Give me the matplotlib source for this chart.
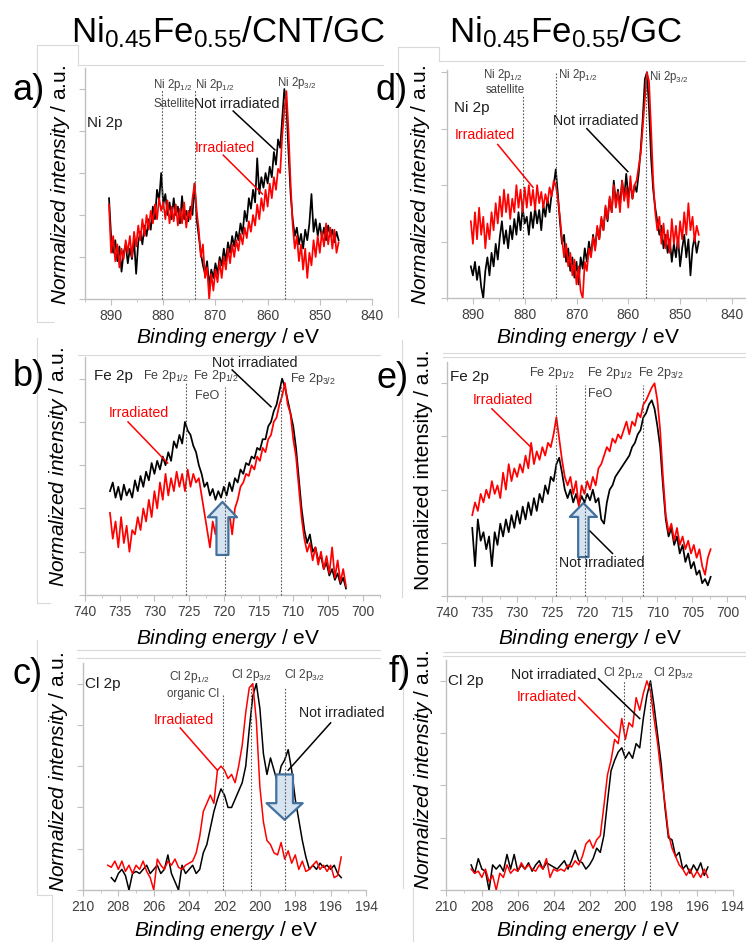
import numpy as np
import matplotlib
matplotlib.use("Agg")
import matplotlib.pyplot as plt
from matplotlib.patches import FancyArrowPatch, ArrowStyle
from matplotlib.lines import Line2D

plt.rcParams['font.family'] = ['Liberation Sans', 'DejaVu Sans']
plt.rcParams['mathtext.fontset'] = 'custom'
plt.rcParams['mathtext.rm'] = 'Liberation Sans'
plt.rcParams['mathtext.it'] = 'Liberation Sans:italic'
plt.rcParams['mathtext.bf'] = 'Liberation Sans:bold'
plt.rcParams['mathtext.default'] = 'regular'

# ---------------- spectra (normalized intensity, % of maximum) ----------------
# Ni 2p, energy grid starts at 890.4 eV, 0.4 eV steps toward lower binding energy
ni_start, ni_step = 890.4, 0.4
ni_cnt_not = [48, 30, 22, 28, 18, 25, 13, 22, 26, 17, 24, 19, 28, 12, 27, 32, 26, 35, 30, 38,
              33, 44, 38, 52, 47, 60, 45, 50, 40, 46, 38, 48, 40, 44, 36, 49, 38, 42, 37, 44,
              40, 55, 38, 30, 22, 16, 12, 18, 6, 14, 10, 17, 12, 20, 16, 24, 18, 27, 22, 30,
              25, 32, 28, 36, 31, 42, 37, 48, 43, 52, 46, 67, 50, 58, 53, 60, 55, 63, 58, 70,
              64, 76, 72, 86, 100, 92, 70, 50, 38, 30, 34, 26, 31, 24, 33, 28, 36, 50, 32, 38,
              30, 36, 29, 34, 28, 35, 30, 33, 27, 32, 28]
ni_cnt_irr = [45, 22, 30, 18, 26, 15, 24, 19, 28, 22, 30, 20, 32, 25, 35, 28, 38, 30, 40, 33,
              42, 36, 45, 38, 48, 42, 46, 38, 47, 36, 44, 37, 45, 35, 43, 36, 46, 34, 42, 38,
              48, 55, 42, 33, 20, 26, 10, 15, 0, 12, 4, 14, 8, 18, 10, 20, 14, 24, 17, 26,
              20, 28, 23, 31, 26, 34, 29, 37, 32, 40, 35, 45, 38, 48, 42, 52, 44, 55, 48, 58,
              52, 62, 60, 78, 90, 99, 80, 55, 35, 24, 30, 18, 26, 14, 24, 10, 22, 16, 28, 20,
              30, 22, 32, 25, 36, 26, 34, 24, 33, 22, 27]
ni_gc_not = [14, 10, 16, 8, 14, 5, 0, 12, 18, 10, 20, 14, 24, 17, 27, 34, 24, 30, 22, 32,
             26, 35, 28, 38, 30, 40, 33, 36, 28, 38, 31, 40, 33, 39, 30, 41, 36, 44, 38, 46,
             50, 57, 46, 34, 24, 28, 16, 22, 12, 18, 9, 16, 6, 18, 13, 22, 16, 25, 19, 28,
             22, 31, 26, 35, 30, 40, 34, 44, 38, 52, 42, 48, 41, 52, 44, 55, 45, 51, 44, 50,
             47, 55, 66, 80, 97, 100, 84, 62, 48, 40, 34, 28, 32, 22, 28, 20, 26, 16, 24, 18,
             27, 14, 22, 28, 18, 26, 10, 22, 27, 20, 25]
ni_gc_irr = [34, 24, 38, 26, 40, 28, 36, 22, 33, 26, 38, 30, 42, 33, 45, 36, 48, 38, 46, 35,
             44, 38, 50, 40, 48, 38, 49, 40, 50, 41, 48, 39, 50, 42, 47, 40, 46, 42, 49, 45,
             52, 50, 44, 36, 26, 18, 24, 14, 20, 10, 17, 6, 14, 3, 0, 16, 12, 22, 18, 27,
             21, 32, 26, 36, 30, 41, 35, 45, 38, 50, 40, 47, 38, 52, 43, 49, 40, 54, 44, 50,
             52, 58, 64, 76, 88, 100, 96, 75, 52, 38, 30, 36, 24, 33, 22, 30, 20, 35, 24, 32,
             22, 34, 26, 38, 28, 42, 30, 36, 25, 32, 28]

# Fe 2p, grid starts at 736.4 eV, 0.4 eV steps
fe_start, fe_step = 736.4, 0.4
fe_cnt_not = [48, 52, 45, 50, 44, 51, 46, 49, 45, 53, 48, 55, 50, 57, 53, 61, 56, 62, 58, 64,
              60, 66, 62, 71, 68, 74, 70, 80, 76, 74, 69, 66, 60, 56, 50, 52, 46, 49, 44, 48,
              45, 50, 46, 52, 48, 54, 52, 58, 56, 61, 60, 64, 63, 68, 67, 72, 72, 78, 80, 85,
              88, 94, 100, 96, 90, 84, 78, 68, 54, 40, 30, 24, 28, 20, 22, 16, 18, 12, 15, 9,
              12, 7, 10, 5, 8, 3]
fe_cnt_irr = [38, 26, 34, 22, 36, 24, 32, 20, 30, 28, 36, 30, 40, 34, 44, 36, 48, 40, 52, 44,
              56, 46, 54, 48, 57, 50, 56, 48, 58, 50, 56, 52, 54, 46, 38, 30, 22, 34, 28, 38,
              32, 40, 30, 38, 28, 40, 44, 50, 52, 56, 55, 60, 58, 64, 62, 68, 66, 72, 74, 80,
              82, 88, 92, 98, 88, 84, 72, 64, 50, 36, 26, 20, 24, 16, 22, 14, 20, 12, 18, 10,
              22, 8, 16, 6, 12, 4]
fe_gc_not = [32, 14, 36, 26, 30, 22, 28, 14, 30, 24, 34, 28, 36, 30, 38, 32, 40, 34, 42, 36,
             44, 38, 46, 40, 48, 44, 52, 48, 56, 54, 62, 65, 58, 50, 46, 50, 44, 48, 43, 47,
             44, 48, 45, 50, 44, 46, 36, 34, 44, 50, 52, 56, 58, 60, 62, 64, 66, 70, 72, 76,
             78, 84, 86, 90, 92, 88, 80, 70, 52, 36, 28, 32, 24, 28, 20, 24, 16, 20, 13, 16,
             10, 12, 6, 8, 5, 9]
fe_gc_irr = [38, 44, 40, 48, 44, 50, 46, 54, 48, 52, 46, 58, 50, 62, 54, 60, 56, 62, 58, 66,
             60, 72, 62, 68, 64, 70, 66, 72, 70, 76, 84, 74, 64, 56, 52, 56, 48, 54, 42, 52,
             48, 54, 50, 56, 52, 60, 62, 66, 70, 68, 74, 72, 76, 74, 78, 82, 76, 82, 80, 86,
             84, 90, 92, 95, 98, 100, 92, 78, 56, 38, 30, 34, 26, 32, 24, 28, 22, 26, 20, 24,
             18, 22, 14, 10, 18, 22]

# Cl 2p, 0.2 eV steps
cl_step = 0.2
cl_cnt_not_start = 208.4
cl_cnt_not = [6, 4, 8, 10, 7, 0, 8, 9, 8, 10, 12, 8, 10, 12, 8, 10, 17, 8, 4, 0,
              12, 8, 10, 12, 8, 10, 18, 22, 30, 38, 44, 49, 46, 40, 40, 44, 48, 52, 60, 78,
              94, 100, 88, 66, 56, 64, 58, 52, 60, 63, 68, 58, 44, 34, 24, 16, 10, 12, 10, 13,
              11, 12, 10, 12, 8, 6]
cl_cnt_irr_start = 208.6
cl_cnt_irr = [12, 11, 14, 10, 14, 9, 12, 8, 12, 10, 14, 9, 6, 0, 15, 12, 10, 14, 12, 15,
              11, 10, 12, 13, 14, 18, 26, 38, 42, 46, 42, 58, 60, 58, 54, 56, 52, 60, 70, 86,
              98, 100, 82, 50, 33, 24, 22, 18, 17, 23, 15, 19, 13, 17, 10, 14, 9, 10, 12, 14,
              10, 12, 9, 12, 6, 7, 16]
cl_gc_start = 208.6
cl_gc_not = [12, 8, 15, 10, 9, 0, 12, 10, 12, 9, 17, 10, 17, 9, 12, 10, 13, 9, 12, 14,
             10, 13, 12, 11, 10, 12, 14, 10, 14, 19, 14, 13, 10, 12, 15, 20, 18, 26, 42, 57,
             62, 66, 68, 63, 66, 63, 70, 68, 82, 93, 100, 88, 74, 60, 40, 25, 24, 16, 18, 10,
             12, 8, 12, 9, 13, 7, 11]
cl_gc_irr = [10, 8, 9, 6, 10, 4, 7, 0, 8, 6, 12, 8, 10, 9, 13, 10, 12, 10, 9, 12,
             10, 15, 6, 10, 9, 10, 9, 12, 11, 14, 12, 16, 22, 24, 20, 24, 26, 40, 55, 62,
             72, 70, 82, 72, 80, 78, 92, 86, 94, 100, 95, 82, 70, 55, 42, 27, 20, 16, 12, 10,
             7, 10, 6, 9, 6, 10, 6]

# ---------------- layout helpers ----------------
W, H = 746, 942
fig = plt.figure(figsize=(W / 100, H / 100), dpi=100)


def rect(l, t, r, b):
    return [l / W, 1 - b / H, (r - l) / W, (b - t) / H]


def fpos(x, y):
    return x / W, 1 - y / H


def grid(start, step, vals):
    return start - step * np.arange(len(vals))


GRAY_TXT = '#404040'
DARK_TXT = '#1e1e1e'
RED = '#ff0000'


def base_axes(r, xlim, ylim, major, minor=None):
    ax = fig.add_axes(rect(*r))
    ax.set_xlim(*xlim)
    ax.set_ylim(*ylim)
    for s in ('top', 'right'):
        ax.spines[s].set_visible(False)
    for s in ('left', 'bottom'):
        ax.spines[s].set_color('#c0c0c0')
        ax.spines[s].set_linewidth(1.0)
    ax.set_xticks(major)
    if minor is not None:
        ax.set_xticks(minor, minor=True)
    ax.tick_params(axis='both', which='major', direction='out', length=4, width=0.8,
                   colors='#c0c0c0', labelcolor=GRAY_TXT, labelsize=10, pad=3)
    ax.tick_params(axis='both', which='minor', direction='out', length=2.5, width=0.6,
                   colors='#c0c0c0')
    ax.set_yticklabels([])
    ax.patch.set_alpha(0)
    return ax


def vline(ax, x, top):
    ax.plot([x, x], [0, top], ls=(0, (1.5, 1.5)), color='#555555', lw=0.8, zorder=6,
            clip_on=False)


def label(ax, x, y, s, size=8.3, color=GRAY_TXT, ha='center'):
    ax.text(x, y, s, fontsize=size, color=color, ha=ha, va='center', zorder=7)


def leader(ax, p0, p1, color):
    ax.plot([p0[0], p1[0]], [p0[1], p1[1]], color=color, lw=1.1, zorder=7, clip_on=False)


def block_arrow(ax, x, y0, y1, tail, head, hlen):
    style = ArrowStyle.Simple(head_length=hlen, head_width=head, tail_width=tail)
    arr = FancyArrowPatch((x, y0), (x, y1), arrowstyle=style, mutation_scale=1,
                          shrinkA=0, shrinkB=0, fc='#d6e3f1', ec='#41719c', lw=1.6,
                          zorder=5)
    ax.add_patch(arr)


def curves(ax, e1, v1, e2, v2, lw):
    ax.plot(e1, np.array(v1) / 100, color='black', lw=lw, zorder=3)
    ax.plot(e2, np.array(v2) / 100, color=RED, lw=lw, zorder=4)


NOISY_LW = 1.25

# ---------------- a) Ni 2p, CNT/GC ----------------
ni_ticks = [890, 880, 870, 860, 850, 840]
ni_minor = list(range(895, 839, -5))
ax = base_axes((85, 68, 372, 299), (895, 840), (0, 1.1), ni_ticks, ni_minor)
ax.set_yticks([0, 0.2, 0.4, 0.6, 0.8, 1.0])
curves(ax, grid(ni_start, ni_step, ni_cnt_not), ni_cnt_not,
       grid(ni_start, ni_step, ni_cnt_irr), ni_cnt_irr, NOISY_LW)
for x in (880.3, 873.9, 856.7):
    vline(ax, x, 1.0)
label(ax, 894.6, 0.84, 'Ni 2p', 11, DARK_TXT, 'left')
label(ax, 878.2, 1.02, 'Ni 2p$_{1/2}$')
label(ax, 878.0, 0.93, 'Satellite')
label(ax, 870.1, 1.02, 'Ni 2p$_{1/2}$')
label(ax, 854.4, 1.03, 'Ni 2p$_{3/2}$')
label(ax, 865.9, 0.93, 'Not irradiated', 10.2, DARK_TXT)
leader(ax, (866.6, 0.895), (858.6, 0.71), 'black')
label(ax, 868.2, 0.72, 'Irradiated', 10.2, RED)
leader(ax, (868.5, 0.685), (861.0, 0.50), RED)

# ---------------- d) Ni 2p, GC ----------------
ax = base_axes((447, 70, 745, 298), (895, 895 - 298 / 5.18), (0, 1.01), ni_ticks, ni_minor)
ax.set_yticks([0, 0.25, 0.5, 0.75, 1.0])
curves(ax, grid(ni_start, ni_step, ni_gc_not), ni_gc_not,
       grid(ni_start, ni_step, ni_gc_irr), ni_gc_irr, NOISY_LW)
vline(ax, 880.3, 0.9)
vline(ax, 874.0, 1.0)
vline(ax, 856.6, 1.0)
label(ax, 893.6, 0.84, 'Ni 2p', 11, DARK_TXT, 'left')
label(ax, 884.2, 0.99, 'Ni 2p$_{1/2}$')
label(ax, 883.8, 0.92, 'satellite')
label(ax, 869.8, 0.99, 'Ni 2p$_{1/2}$')
label(ax, 852.1, 0.98, 'Ni 2p$_{3/2}$')
label(ax, 887.7, 0.72, 'Irradiated', 10.2, RED)
leader(ax, (885.2, 0.68), (878.4, 0.49), RED)
label(ax, 866.2, 0.785, 'Not irradiated', 10.2, DARK_TXT)
leader(ax, (868.0, 0.75), (860.1, 0.56), 'black')

# ---------------- b) Fe 2p, CNT/GC ----------------
fe_ticks = [740, 735, 730, 725, 720, 715, 710, 705, 700]
fe_minor = list(np.arange(740, 697, -2.5))
ax = base_axes((85, 357, 380, 595), (740, 697.7), (0, 1.1), fe_ticks, fe_minor)
ax.set_yticks([0, 0.2, 0.4, 0.6, 0.8, 1.0])
curves(ax, grid(fe_start, fe_step, fe_cnt_not), fe_cnt_not,
       grid(fe_start, fe_step, fe_cnt_irr), fe_cnt_irr, NOISY_LW)
vline(ax, 725.4, 0.98)
vline(ax, 719.8, 0.96)
vline(ax, 711.8, 0.98)
label(ax, 738.7, 1.01, 'Fe 2p', 11, DARK_TXT, 'left')
label(ax, 728.4, 1.01, 'Fe 2p$_{1/2}$', 9)
label(ax, 721.1, 1.01, 'Fe 2p$_{1/2}$', 9)
label(ax, 724.2, 0.92, 'FeO', 9, GRAY_TXT, 'left')
label(ax, 707.2, 1.0, 'Fe 2p$_{3/2}$', 9)
label(ax, 715.5, 1.07, 'Not irradiated', 10.2, DARK_TXT)
leader(ax, (718.8, 1.04), (713.2, 0.87), 'black')
label(ax, 732.2, 0.84, 'Irradiated', 10.2, RED)
leader(ax, (733.8, 0.80), (728.1, 0.61), RED)
block_arrow(ax, 720.2, 0.185, 0.43, 8.6, 21, 11)

# ---------------- e) Fe 2p, GC ----------------
ax = base_axes((447, 362, 745, 596), (740, 740 - 298 / 7.25), (0, 1.1), fe_ticks, fe_minor)
ax.set_yticks([0, 0.25, 0.5, 0.75, 1.0])
curves(ax, grid(fe_start, fe_step, fe_gc_not), fe_gc_not,
       grid(fe_start, fe_step, fe_gc_irr), fe_gc_irr, NOISY_LW)
vline(ax, 724.4, 0.99)
vline(ax, 720.3, 0.99)
vline(ax, 712.0, 0.99)
label(ax, 739.6, 1.03, 'Fe 2p', 11, DARK_TXT, 'left')
label(ax, 725.1, 1.05, 'Fe 2p$_{1/2}$', 9)
label(ax, 716.8, 1.05, 'Fe 2p$_{1/2}$', 9)
label(ax, 719.9, 0.95, 'FeO', 9, GRAY_TXT, 'left')
label(ax, 709.5, 1.05, 'Fe 2p$_{3/2}$', 9)
label(ax, 732.1, 0.92, 'Irradiated', 10.2, RED)
leader(ax, (733.6, 0.88), (727.9, 0.695), RED)
label(ax, 718.0, 0.155, 'Not irradiated', 10.2, DARK_TXT)
leader(ax, (716.4, 0.20), (719.6, 0.305), 'black')
block_arrow(ax, 720.55, 0.183, 0.437, 7.5, 19.5, 10)

# ---------------- c) Cl 2p, CNT/GC ----------------
cl_ticks = list(range(210, 193, -2))
cl_minor = list(range(210, 193, -1))
ax = base_axes((83, 663, 366, 890), (210, 194), (0, 1.1), cl_ticks, cl_minor)
ax.set_yticks([0, 0.2, 0.4, 0.6, 0.8, 1.0])
curves(ax, grid(cl_cnt_not_start, cl_step, cl_cnt_not), cl_cnt_not,
       grid(cl_cnt_irr_start, cl_step, cl_cnt_irr), cl_cnt_irr, 1.1)
vline(ax, 202.1, 0.95)
vline(ax, 200.5, 1.0)
vline(ax, 198.6, 0.985)
label(ax, 209.9, 1.0, 'Cl 2p', 11, DARK_TXT, 'left')
label(ax, 204.0, 1.03, 'Cl 2p$_{1/2}$', 8.6)
label(ax, 203.8, 0.95, 'organic Cl', 8.3)
label(ax, 200.5, 1.04, 'Cl 2p$_{3/2}$', 8.6)
label(ax, 197.5, 1.04, 'Cl 2p$_{3/2}$', 8.6)
label(ax, 204.3, 0.825, 'Irradiated', 10.2, RED)
leader(ax, (204.5, 0.785), (202.4, 0.58), RED)
label(ax, 197.8, 0.86, 'Not irradiated', 10.2, DARK_TXT, 'left')
leader(ax, (196.0, 0.81), (198.4, 0.58), 'black')
block_arrow(ax, 198.6, 0.56, 0.34, 12, 26, 12)

# ---------------- f) Cl 2p, GC ----------------
ax = base_axes((446, 660, 733, 890), (210, 194), (0, 1.1), cl_ticks, cl_minor)
ax.set_yticks([0, 0.25, 0.5, 0.75, 1.0])
curves(ax, grid(cl_gc_start, cl_step, cl_gc_not), cl_gc_not,
       grid(cl_gc_start, cl_step, cl_gc_irr), cl_gc_irr, 1.1)
vline(ax, 200.1, 1.0)
vline(ax, 198.6, 1.0)
label(ax, 209.9, 1.0, 'Cl 2p', 11, DARK_TXT, 'left')
label(ax, 200.1, 1.04, 'Cl 2p$_{1/2}$', 8.6)
label(ax, 197.3, 1.04, 'Cl 2p$_{3/2}$', 8.6)
label(ax, 204.0, 1.03, 'Not irradiated', 10.2, DARK_TXT)
leader(ax, (201.5, 1.01), (199.2, 0.82), 'black')
label(ax, 204.4, 0.925, 'Irradiated', 10.2, RED)
leader(ax, (202.6, 0.92), (200.4, 0.73), RED)

# ---------------- axis titles ----------------
xlab = r'$\mathit{Binding\ energy}$ / eV'
for x, y in ((228, 338), (588, 338), (228, 638), (590, 638), (226, 930), (588, 930)):
    fig.text(*fpos(x, y), xlab, fontsize=15, ha='center', va='center', color='black')

ylab = r'$\mathit{Normalized\ intensity}$ / a.u.'
for x, y, s in ((60, 185, ylab), (420, 185, ylab), (58, 467, ylab),
                (423, 470, 'Normalized intensity / a.u.'), (58, 772, ylab), (423, 770, ylab)):
    fig.text(*fpos(x, y), s, fontsize=15, rotation=90, ha='center', va='center',
             color='black')

for x, y, s in ((29, 91, 'a)'), (392, 90, 'd)'), (29, 377, 'b)'), (393, 378, 'e)'),
                (28, 675, 'c)'), (400, 673, 'f)')):
    fig.text(*fpos(x, y), s, fontsize=26, ha='center', va='center', color='black')

fig.text(*fpos(228, 42), r'Ni$_{0.45}$Fe$_{0.55}$/CNT/GC', fontsize=25, ha='center',
         va='baseline', color='black')
fig.text(*fpos(566, 42), r'Ni$_{0.45}$Fe$_{0.55}$/GC', fontsize=25, ha='center',
         va='baseline', color='black')

# ---------------- faint panel frames ----------------
frames = [
    ((37, 45), (78, 45)), ((78, 45), (78, 65)), ((78, 65), (383, 65)), ((37, 45), (37, 322)),
    ((37, 322), (53, 322)),
    ((398, 47), (439, 47)), ((439, 47), (439, 61)), ((439, 61), (746, 61)),
    ((398, 47), (398, 317)),
    ((78, 355), (380, 355)), ((37, 338), (37, 603)), ((37, 603), (50, 603)),
    ((443, 353), (746, 353)), ((443, 357), (746, 357)), ((402, 340), (402, 597)),
    ((77, 650), (380, 650)), ((77, 658), (380, 658)), ((37, 640), (37, 895)),
    ((37, 895), (52, 895)), ((52, 895), (52, 942)),
    ((443, 652), (746, 652)), ((443, 656), (746, 656)), ((403, 655), (403, 888)),
    ((413, 888), (413, 942)),
]
for (x0, y0), (x1, y1) in frames:
    fig.add_artist(Line2D([x0 / W, x1 / W], [1 - y0 / H, 1 - y1 / H],
                          transform=fig.transFigure, color='#d9d9d9', lw=0.8, zorder=0))

fig.savefig('out.png', dpi=100, facecolor='white')
